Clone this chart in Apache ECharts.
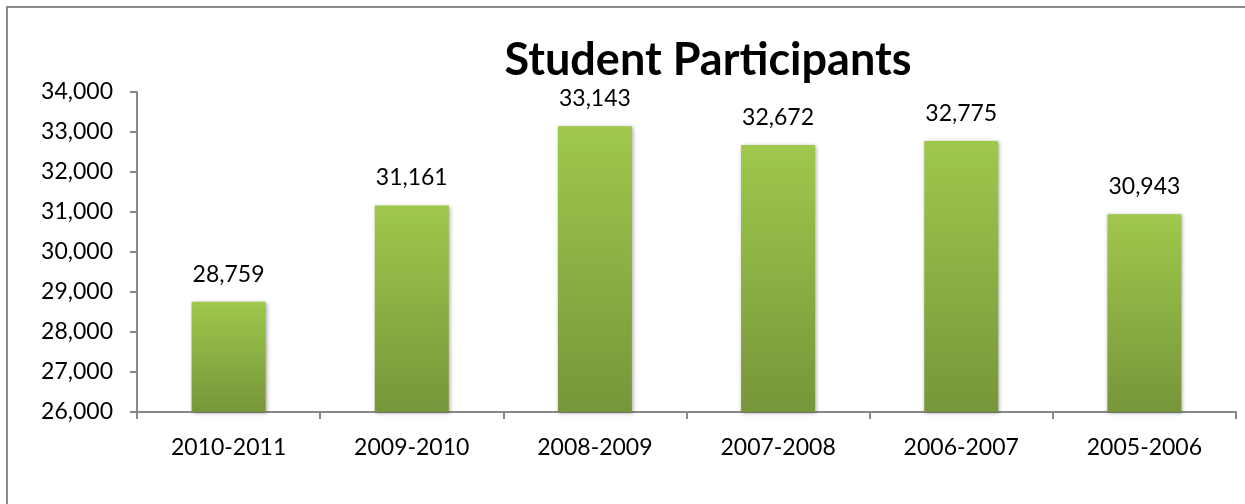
<!DOCTYPE html>
<html>
<head>
<meta charset="utf-8">
<script src="https://cdn.jsdelivr.net/npm/echarts@6/dist/echarts.min.js"></script>
<style>
html, body { margin: 0; padding: 0; background: #fff; }
#chart { width: 1245px; height: 504px; }
.frame { position: absolute; left: 6px; top: 6px; width: 1239px; height: 498px; border-top: 2px solid #8c8c8c; border-left: 2px solid #8c8c8c; box-sizing: border-box; pointer-events: none; }
</style>
</head>
<body>
<div id="chart"></div>
<div class="frame"></div>
<script>
var seasons = ['2010-2011', '2009-2010', '2008-2009', '2007-2008', '2006-2007', '2005-2006'];
var participants = [28759, 31161, 33143, 32672, 32775, 30943];
var yMin = 26000, yMax = 34000, yStep = 1000;

function fmt(v) {
    return String(v).replace(/\B(?=(\d{3})+(?!\d))/g, ',');
}

var option = {
    animation: false,
    title: {
        text: 'Student Participants',
        left: 703,
        textAlign: 'center',
        top: 33,
        textStyle: { fontFamily: 'Lato', fontWeight: 'bold', fontSize: 45, color: '#000' }
    },
    grid: { left: 137, right: 9, top: 92, bottom: 92 },
    xAxis: {
        type: 'category',
        data: seasons,
        axisLine: { lineStyle: { color: '#888', width: 2 } },
        axisTick: { show: true, alignWithLabel: false, length: 7, lineStyle: { color: '#888', width: 2 } },
        axisLabel: { fontFamily: 'Lato', fontSize: 23, color: '#000', margin: 24 }
    },
    yAxis: {
        type: 'value',
        min: yMin,
        max: yMax,
        interval: yStep,
        axisLine: { show: true, lineStyle: { color: '#888', width: 2 } },
        axisTick: { show: true, length: 7, lineStyle: { color: '#888', width: 2 } },
        splitLine: { show: false },
        axisLabel: { fontFamily: 'Lato', fontSize: 23, color: '#000', margin: 24, formatter: fmt }
    },
    series: [{
        type: 'bar',
        data: participants,
        barWidth: 74,
        itemStyle: {
            color: new echarts.graphic.LinearGradient(0, 0, 0, 1, [
                { offset: 0, color: '#9fc84c' },
                { offset: 1, color: '#77963a' }
            ]),
            shadowColor: 'rgba(0,0,0,0.35)',
            shadowBlur: 4,
            shadowOffsetX: 1,
            shadowOffsetY: 1
        },
        label: {
            show: true,
            position: 'top',
            distance: 16,
            fontFamily: 'Lato',
            fontSize: 23,
            color: '#000',
            formatter: function (p) { return fmt(p.value); }
        }
    }]
};

echarts.init(document.getElementById('chart')).setOption(option);
</script>
</body>
</html>
